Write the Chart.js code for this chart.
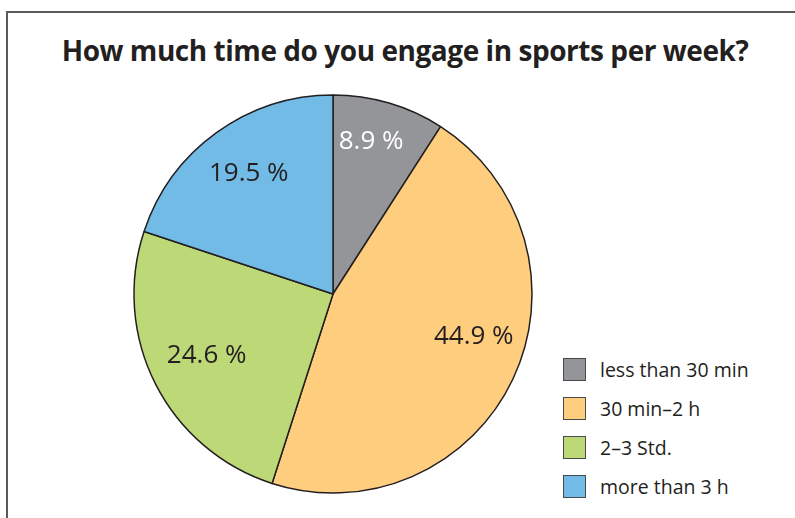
<!DOCTYPE html>
<html>
<head>
<meta charset="utf-8">
<script src="https://cdn.jsdelivr.net/npm/chart.js@4/dist/chart.umd.min.js"></script>
<style>
  html,body{margin:0;padding:0;background:#fff;width:795px;height:518px;overflow:hidden;font-family:"Open Sans","Noto Sans",sans-serif;}
  #frame{position:absolute;left:6px;top:11px;width:900px;height:700px;border:2px solid #5a5a5a;box-sizing:border-box;}
  #title{position:absolute;left:0;top:36px;width:810px;text-align:center;font-weight:bold;font-size:28px;line-height:28px;color:#231f20;letter-spacing:-0.45px;}
  #wrap{position:absolute;left:123px;top:84px;width:420px;height:420px;}
  #legend{position:absolute;left:563px;top:358px;}
  .li{position:relative;height:39px;}
  .sw{position:absolute;left:0;top:0;width:21px;height:21px;border:1.5px solid #4a4a4a;}
  .lt{position:absolute;left:37px;top:-2px;font-size:19.5px;color:#231f20;white-space:nowrap;}
</style>
</head>
<body>
<div id="frame"></div>
<div id="title">How much time do you engage in sports per week?</div>
<div id="wrap"><canvas id="c" width="420" height="420"></canvas></div>
<div id="legend"></div>
<script>
const categories = ["less than 30 min", "30 min\u20132 h", "2\u20133 Std.", "more than 3 h"];
const values = [8.9, 44.9, 24.6, 19.5];
const valueLabels = ["8.9 %", "44.9 %", "24.6 %", "19.5 %"];
const colors = ["#939598", "#fecd7e", "#bdd877", "#72bbe6"];
const labelColors = ["#ffffff", "#231f20", "#231f20", "#231f20"];

// legend (HTML, real text)
const leg = document.getElementById('legend');
categories.forEach((c, i) => {
  const d = document.createElement('div');
  d.className = 'li';
  d.innerHTML = '<div class="sw" style="background:' + colors[i] + '"></div><div class="lt">' + c + '</div>';
  leg.appendChild(d);
});

// label placement style: radius fraction and angular nudge (degrees)
const labelStyle = { r: [0.80, 0.735, 0.70, 0.75], dAng: [-2.5, -9.5, 2, 1.5], dy: 2.5 };

const sliceLabels = {
  id: 'sliceLabels',
  afterDatasetsDraw(chart) {
    const ctx = chart.ctx;
    const meta = chart.getDatasetMeta(0);
    ctx.save();
    ctx.font = '26px "Open Sans", "Noto Sans", sans-serif';
    ctx.textAlign = 'center';
    ctx.textBaseline = 'middle';
    meta.data.forEach((arc, i) => {
      const p = arc.getProps(['x', 'y', 'startAngle', 'endAngle', 'outerRadius'], true);
      const a = (p.startAngle + p.endAngle) / 2 + labelStyle.dAng[i] * Math.PI / 180;
      const r = p.outerRadius * labelStyle.r[i];
      ctx.fillStyle = labelColors[i];
      ctx.fillText(valueLabels[i], p.x + Math.cos(a) * r, p.y + Math.sin(a) * r + labelStyle.dy);
    });
    ctx.restore();
  }
};

new Chart(document.getElementById('c'), {
  type: 'pie',
  data: {
    labels: categories,
    datasets: [{
      data: values,
      backgroundColor: colors,
      borderColor: '#231f20',
      borderWidth: 1.5
    }]
  },
  options: {
    responsive: false,
    animation: false,
    radius: 199,
    layout: { padding: 0 },
    plugins: { legend: { display: false }, tooltip: { enabled: false }, title: { display: false } }
  },
  plugins: [sliceLabels]
});
</script>
</body>
</html>
